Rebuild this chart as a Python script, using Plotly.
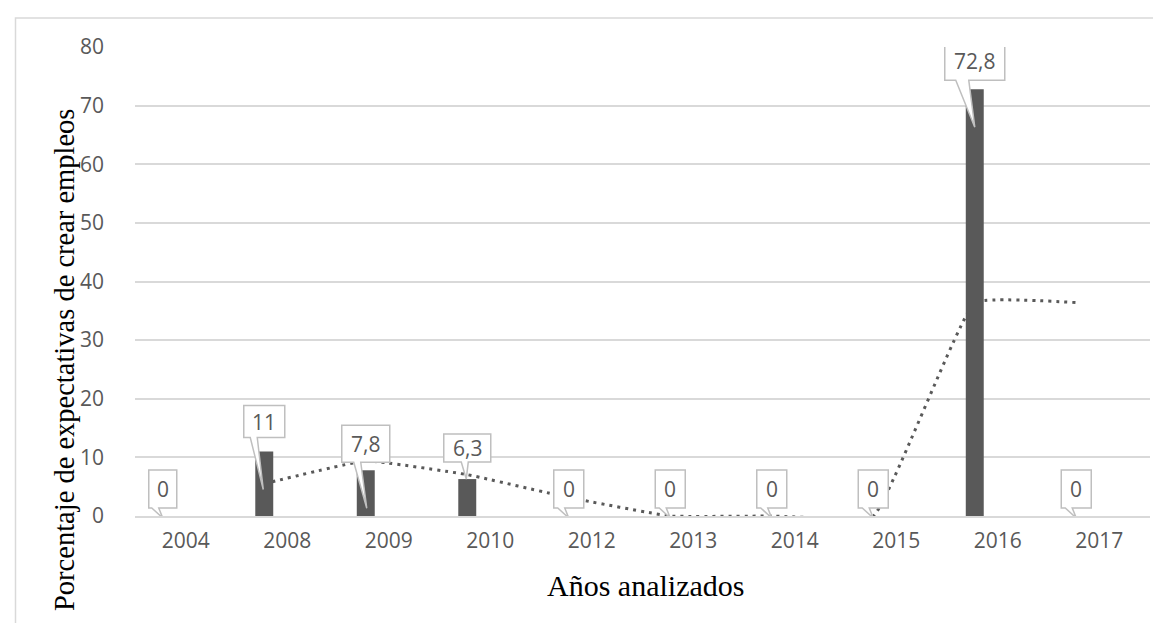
import plotly.graph_objects as go

# ---- data ----
years = ["2004", "2008", "2009", "2010", "2012", "2013", "2014", "2015", "2016", "2017"]
values = [0, 11, 7.8, 6.3, 0, 0, 0, 0, 72.8, 0]
labels = ["0", "11", "7,8", "6,3", "0", "0", "0", "0", "72,8", "0"]
# 2-period moving average trendline
trend = [None, 5.5, 9.4, 7.05, 3.15, 0, 0, 0, 36.4, 36.4]
y_ticks = [0, 10, 20, 30, 40, 50, 60, 70, 80]

# ---- style ----
GRAY = "#595959"
GRID = "#d9d9d9"
CALLOUT = "#bfbfbf"
TICKFONT = dict(family="Open Sans", size=21, color=GRAY)
BAR_OFFSET = -0.315
BAR_WIDTH = 0.177
SHIFT = BAR_OFFSET + BAR_WIDTH / 2

# callout geometry (pixels, relative to bar top centre): box bottom, box top, pointer base, tip
box_w = [28, 41, 48, 47, 30, 30, 30, 30, 60, 30]
box_bottom = [8, 14, 8, 17, 8, 8, 8, 8, 9, 8]
box_top = [46, 46, 45, 45, 46, 46, 46, 46, 47, 46]
ptr_l = [-11, -14, -12, -6, -11, -11, -11, -11, -19, -11]
ptr_r = [-4, -7, -5, 1, -4, -4, -4, -4, -6, -4]
tip = [(0, -2), (-1, -38), (1, -38), (-1, 0), (0, -2), (0, -2), (0, -2), (0, -2), (0, -38), (0, -2)]

idx = list(range(len(years)))
xc = [i + SHIFT for i in idx]

fig = go.Figure()

# trendline (drawn under the bars)
fig.add_trace(go.Scatter(
    x=xc, y=trend, mode="lines",
    line=dict(color=GRAY, width=3, dash="3px,5px", shape="spline", smoothing=0.3),
    xaxis="x", yaxis="y", hoverinfo="skip", showlegend=False,
))

# bars on overlaying axes so they sit above the trendline
fig.add_trace(go.Bar(
    x=idx, y=values, offset=BAR_OFFSET, width=BAR_WIDTH,
    marker=dict(color=GRAY, line=dict(width=0)),
    xaxis="x2", yaxis="y2", showlegend=False,
))

shapes = []
annotations = []
for i in idx:
    w = box_w[i]
    b = box_bottom[i]
    t = box_top[i]
    tx, ty = tip[i]
    path = (f"M {-w/2} {t} L {w/2} {t} L {w/2} {b} L {ptr_r[i]} {b} "
            f"L {tx} {ty} L {ptr_l[i]} {b} L {-w/2} {b} Z")
    shapes.append(dict(
        type="path", xref="x", yref="y",
        xsizemode="pixel", ysizemode="pixel",
        xanchor=xc[i], yanchor=values[i], path=path,
        fillcolor="white", line=dict(color=CALLOUT, width=1.5), layer="above",
    ))
    annotations.append(dict(
        x=xc[i], y=values[i], xref="x", yref="y", text=labels[i],
        showarrow=False, yshift=(b + t) / 2, font=TICKFONT,
        xanchor="center", yanchor="middle",
    ))

# outer frame
shapes.append(dict(
    type="rect", xref="paper", yref="paper",
    x0=(7.5 - 127) / 1015, x1=1.5, y0=-1, y1=(508 - 10) / 469,
    line=dict(color=GRID, width=1.5), fillcolor="rgba(0,0,0,0)", layer="below",
))

# axis titles
annotations.append(dict(
    text="Años analizados", xref="paper", yref="paper",
    x=(637 - 127) / 1015, y=(508 - 577) / 469, showarrow=False,
    font=dict(family="Liberation Serif", size=30, color="black"),
    xanchor="center", yanchor="middle",
))
annotations.append(dict(
    text="Porcentaje de expectativas de crear empleos", xref="paper", yref="paper",
    x=(56 - 127) / 1015, y=(508 - 352) / 469, showarrow=False, textangle=-90,
    font=dict(family="Liberation Serif", size=28.5, color="black"),
    xanchor="center", yanchor="middle",
))

xr = [-0.5, len(years) - 0.5]
fig.update_layout(
    width=1161, height=623,
    margin=dict(l=127, r=19, t=39, b=115),
    paper_bgcolor="white", plot_bgcolor="white",
    xaxis=dict(
        range=xr, tickvals=idx, ticktext=years, showgrid=False,
        showline=True, linecolor=GRID, linewidth=1.5, ticks="",
        tickfont=TICKFONT, ticklabelstandoff=5, zeroline=False, fixedrange=True,
    ),
    yaxis=dict(
        range=[0, 80], tickvals=y_ticks, showgrid=True, gridcolor=GRID, gridwidth=1.5,
        zeroline=False, showline=False, ticks="", tickfont=TICKFONT,
        ticklabelstandoff=30, fixedrange=True,
    ),
    xaxis2=dict(range=xr, overlaying="x", visible=False, fixedrange=True),
    yaxis2=dict(range=[0, 80], overlaying="y", visible=False, fixedrange=True),
    shapes=shapes,
    annotations=annotations,
    showlegend=False,
)

fig.write_html("out.html")
